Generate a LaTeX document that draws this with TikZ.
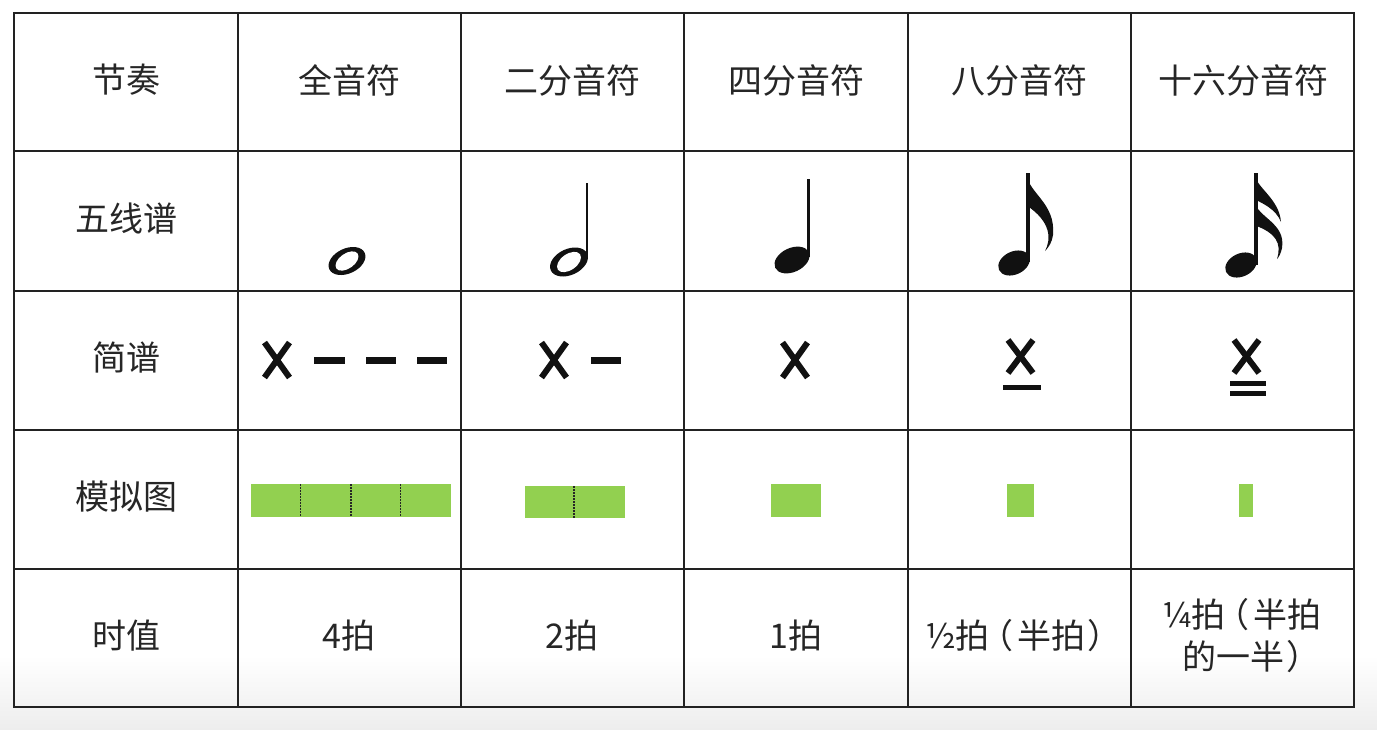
\documentclass[tikz,border=0pt]{standalone}
\usepackage{fontspec}
\newfontfamily\cjk{Noto Sans CJK SC}
\definecolor{gridc}{HTML}{222222}
\definecolor{barg}{HTML}{92D050}
\definecolor{ink}{HTML}{111111}
\newcommand{\lpar}{\kern-0.3em（\kern0.12em}
\newcommand{\rpar}{\kern0.05em）\kern-0.55em}
\begin{document}
\begin{tikzpicture}[x=1pt,y=-1pt,
  cell/.style={font=\cjk\fontsize{34}{42}\selectfont, inner sep=0pt, text=black!85, align=center},
  gridline/.style={draw=gridc, line width=2pt},
  bar/.style={fill=barg},
  beatsep/.style={draw=black!85, dash pattern=on 1.5pt off 1.5pt, line width=1.4pt},
  xstroke/.style={draw=ink, line width=6pt},
  dashbar/.style={fill=ink},
  stemline/.style={draw=ink, line width=2.6pt},
  thickstem/.style={draw=ink, line width=3.6pt}]
\useasboundingbox (0,0) rectangle (1377,729);
\fill[white] (0,0) rectangle (1377,729);
\shade[top color=white, bottom color=black!7] (0,655) rectangle (1377,729);

% grid
\draw[gridline] (14,13) rectangle (1354,707);
\foreach \xx in {238,461,684,908,1131} \draw[gridline] (\xx,13) -- (\xx,707);
\foreach \yy in {151,291,430,569} \draw[gridline] (14,\yy) -- (1354,\yy);

% header row
\node[cell] (h0) at (126,80) {节奏};
\node[cell] (h1) at (349,80) {全音符};
\node[cell] (h2) at (572,80) {二分音符};
\node[cell] (h3) at (796,80) {四分音符};
\node[cell] (h4) at (1019,80) {八分音符};
\node[cell] (h5) at (1243,80) {十六分音符};

% row labels
\node[cell] (r1) at (126,219) {五线谱};
\node[cell] (r2) at (126,358) {简谱};
\node[cell] (r3) at (126,497) {模拟图};
\node[cell] (r4) at (126,636) {时值};

% staff notes
% whole note
\begin{scope}[shift={(347,261)},rotate=25] \fill[ink] (0,0) ellipse (19.5 and 12.5); \end{scope}
\begin{scope}[shift={(347,261)},rotate=35] \fill[white] (0,0) ellipse (13 and 7.5); \end{scope}
% half note
\begin{scope}[shift={(569,262)},rotate=25] \fill[ink] (0,0) ellipse (20 and 13); \end{scope}
\begin{scope}[shift={(569,262)},rotate=35] \fill[white] (0,0) ellipse (13.5 and 8); \end{scope}
\draw[stemline] (587,183) -- (587,259);
% quarter note
\begin{scope}[shift={(792,260)},rotate=25] \fill[ink] (0,0) ellipse (18.5 and 12); \end{scope}
\draw[stemline] (808.5,179) -- (808.5,257);
% eighth note
\begin{scope}[shift={(1014,263)},rotate=25] \fill[ink] (0,0) ellipse (16.5 and 11.5); \end{scope}
\draw[thickstem] (1028,173) -- (1028,262);
\fill[ink] (1026,173) .. controls (1028,193) and (1056,203) .. (1053,235)
  .. controls (1052,242) and (1049,247) .. (1045,251)
  .. controls (1051,240) and (1052,222) .. (1026,205) -- cycle;
% sixteenth note
\begin{scope}[shift={(1241,265)},rotate=25] \fill[ink] (0,0) ellipse (16.5 and 11.5); \end{scope}
\draw[thickstem] (1256,173) -- (1256,265);
\fill[ink] (1254,173) .. controls (1256,188) and (1279,198) .. (1281,222)
  .. controls (1276,209) and (1262,203) .. (1254,199) -- cycle;
\fill[ink] (1254,201) .. controls (1258,218) and (1286,223) .. (1282,248)
  .. controls (1281,253) and (1279,257) .. (1277,259)
  .. controls (1282,243) and (1276,233) .. (1254,225) -- cycle;

% jianpu
\newcommand{\jpX}[3]{% center x, center y, half height
  \draw[xstroke] (#1-12.5,#2-#3) -- (#1+12.5,#2+#3);
  \draw[xstroke] (#1+12.5,#2-#3) -- (#1-12.5,#2+#3);}
\jpX{277}{360}{17.5}
\fill[dashbar] (314,356.5) rectangle (345,363.5);
\fill[dashbar] (366,356.5) rectangle (396,363.5);
\fill[dashbar] (417,356.5) rectangle (447,363.5);
\jpX{554}{360}{17.5}
\fill[dashbar] (591,356.5) rectangle (621,363.5);
\jpX{795}{360}{17.5}
\jpX{1020.5}{356.5}{16.5}
\fill[dashbar] (1003,385) rectangle (1041,389.5);
\jpX{1246.5}{356.5}{16.5}
\fill[dashbar] (1230,381) rectangle (1266,385.5);
\fill[dashbar] (1230,391) rectangle (1266,395.5);

% model bars
\fill[bar] (251,484) rectangle (451,517);
\draw[beatsep] (300.7,484) -- (300.7,517);
\draw[beatsep] (351,484) -- (351,517);
\draw[beatsep] (400.7,484) -- (400.7,517);
\fill[bar] (525,486) rectangle (625,518);
\draw[beatsep] (574,486) -- (574,518);
\fill[bar] (771,484) rectangle (821,517);
\fill[bar] (1007,484) rectangle (1034,517);
\fill[bar] (1239,484) rectangle (1253,517);

% durations
\node[cell] (d1) at (349,636) {4拍};
\node[cell] (d2) at (572,636) {2拍};
\node[cell] (d3) at (796,636) {1拍};
\node[cell] (d4) at (1014,636) {½拍\lpar 半拍\rpar};
\node[cell] (d5) at (1242,636) {¼拍\lpar 半拍\\的一半\rpar};
\end{tikzpicture}
\end{document}
